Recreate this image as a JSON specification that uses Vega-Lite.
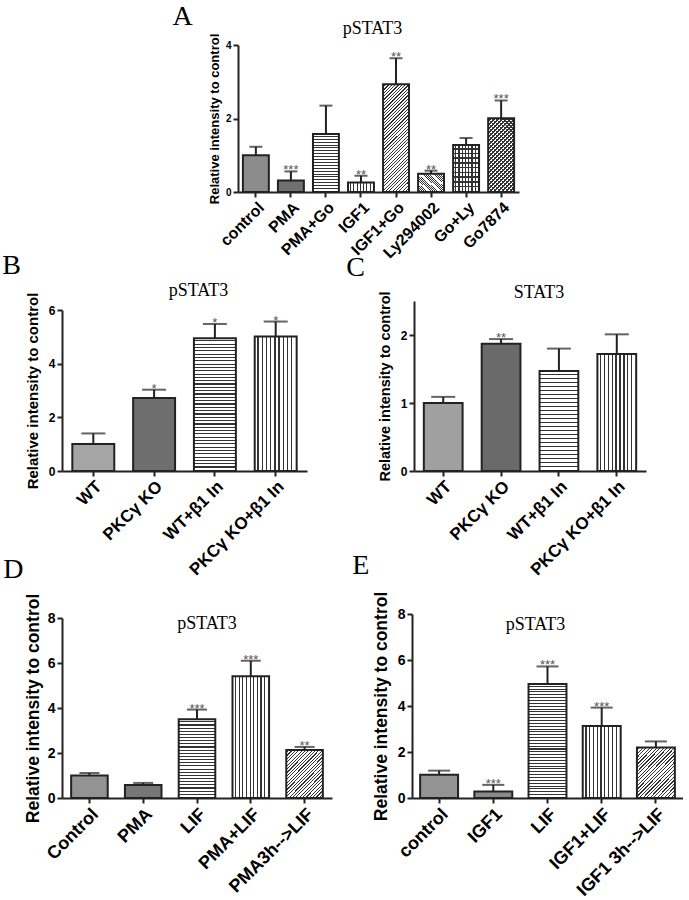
{
"$schema": "https://vega.github.io/schema/vega-lite/v6.json",
"padding": {"left": 2, "top": 3, "right": 0, "bottom": 0},
"background": "white",
"config": {
 "view": {"stroke": null},
 "font": "Liberation Sans",
 "axis": {"domainColor": "#222", "domainWidth": 2, "tickColor": "#222", "tickWidth": 2, "tickSize": 5, "labelColor": "#000", "labelFontWeight": "bold", "titleFontWeight": "bold", "titleColor": "#000", "grid": false, "labelFont": "Liberation Sans", "titleFont": "Liberation Sans"},
 "title": {"font": "Liberation Serif", "fontWeight": "normal", "color": "#000"},
 "concat": {"spacing": 0}
},
"datasets": {
 "A": [
  {"cat": "control", "val": 1.0, "upper": 1.23, "sig": ""},
  {"cat": "PMA", "val": 0.31, "upper": 0.56, "sig": "***"},
  {"cat": "PMA+Go", "val": 1.58, "upper": 2.35, "sig": ""},
  {"cat": "IGF1", "val": 0.26, "upper": 0.44, "sig": "**"},
  {"cat": "IGF1+Go", "val": 2.93, "upper": 3.64, "sig": "**"},
  {"cat": "Ly294002", "val": 0.5, "upper": 0.58, "sig": "**"},
  {"cat": "Go+Ly", "val": 1.28, "upper": 1.47, "sig": ""},
  {"cat": "Go7874", "val": 2.01, "upper": 2.49, "sig": "***"}
 ],
 "B": [
  {"cat": "WT", "val": 1.01, "upper": 1.4, "sig": ""},
  {"cat": "PKCγ KO", "val": 2.72, "upper": 3.03, "sig": "*"},
  {"cat": "WT+β1 In", "val": 4.95, "upper": 5.48, "sig": "*"},
  {"cat": "PKCγ KO+β1 In", "val": 5.01, "upper": 5.57, "sig": "*"}
 ],
 "C": [
  {"cat": "WT", "val": 1.0, "upper": 1.09, "sig": ""},
  {"cat": "PKCγ KO", "val": 1.87, "upper": 1.94, "sig": "**"},
  {"cat": "WT+β1 In", "val": 1.47, "upper": 1.8, "sig": ""},
  {"cat": "PKCγ KO+β1 In", "val": 1.72, "upper": 2.01, "sig": ""}
 ],
 "D": [
  {"cat": "Control", "val": 1.0, "upper": 1.11, "sig": ""},
  {"cat": "PMA", "val": 0.58, "upper": 0.67, "sig": ""},
  {"cat": "LIF", "val": 3.5, "upper": 3.93, "sig": "***"},
  {"cat": "PMA+LIF", "val": 5.41, "upper": 6.1, "sig": "***"},
  {"cat": "PMA3h-->LIF", "val": 2.13, "upper": 2.27, "sig": "**"}
 ],
 "E": [
  {"cat": "control", "val": 1.01, "upper": 1.19, "sig": ""},
  {"cat": "IGF1", "val": 0.28, "upper": 0.57, "sig": "***"},
  {"cat": "LIF", "val": 4.96, "upper": 5.72, "sig": "***"},
  {"cat": "IGF1+LIF", "val": 3.13, "upper": 3.93, "sig": "***"},
  {"cat": "IGF1 3h-->LIF", "val": 2.2, "upper": 2.46, "sig": ""}
 ]
},
"spacing": -9,
"vconcat": [
 {"spacing": 0, "hconcat": [
  {"width": 110, "height": 1, "data": {"values": [{}]}, "mark": {"type": "point", "opacity": 0}, "encoding": {}},
  {"title": {"text": "A", "anchor": "start", "fontSize": 28, "dx": -36, "offset": -11},
   "vconcat": [
   {"width": 281, "height": 147,
    "title": {"text": "pSTAT3", "fontSize": 18, "offset": -5, "dx": -6},
    "data": {"name": "A"},
    "encoding": {"x": {"field": "cat", "type": "nominal", "sort": null, "scale": {"paddingInner": 0.26, "paddingOuter": 0.14}, "axis": {"title": null, "labelAngle": -45, "labelFontSize": 16, "labelPadding": 2}}},
    "layer": [
     {"mark": {"type": "bar"},
      "encoding": {
       "y": {"field": "val", "type": "quantitative", "title": "Relative intensity to control", "scale": {"domain": [0, 4], "nice": false}, "axis": {"values": [0, 1, 2, 3, 4], "labelFontSize": 10, "titleFontSize": 13, "labelPadding": 2, "titlePadding": 4}},
       "fill": {"condition": [
        {"test": "datum.cat === 'control'", "value": "#8c8c8c"},
        {"test": "datum.cat === 'PMA'", "value": "#707070"},
        {"test": "datum.cat === 'PMA+Go'", "value": {"gradient": "linear", "x1": 0, "y1": 0, "x2": 0, "y2": 1, "stops": [{"offset":0,"color":"#fff"},{"offset":0.0325,"color":"#fff"},{"offset":0.0325,"color":"#333"},{"offset":0.05,"color":"#333"},{"offset":0.05,"color":"#fff"},{"offset":0.0825,"color":"#fff"},{"offset":0.0825,"color":"#333"},{"offset":0.1,"color":"#333"},{"offset":0.1,"color":"#fff"},{"offset":0.1325,"color":"#fff"},{"offset":0.1325,"color":"#333"},{"offset":0.15,"color":"#333"},{"offset":0.15,"color":"#fff"},{"offset":0.1825,"color":"#fff"},{"offset":0.1825,"color":"#333"},{"offset":0.2,"color":"#333"},{"offset":0.2,"color":"#fff"},{"offset":0.2325,"color":"#fff"},{"offset":0.2325,"color":"#333"},{"offset":0.25,"color":"#333"},{"offset":0.25,"color":"#fff"},{"offset":0.2825,"color":"#fff"},{"offset":0.2825,"color":"#333"},{"offset":0.3,"color":"#333"},{"offset":0.3,"color":"#fff"},{"offset":0.3325,"color":"#fff"},{"offset":0.3325,"color":"#333"},{"offset":0.35,"color":"#333"},{"offset":0.35,"color":"#fff"},{"offset":0.3825,"color":"#fff"},{"offset":0.3825,"color":"#333"},{"offset":0.4,"color":"#333"},{"offset":0.4,"color":"#fff"},{"offset":0.4325,"color":"#fff"},{"offset":0.4325,"color":"#333"},{"offset":0.45,"color":"#333"},{"offset":0.45,"color":"#fff"},{"offset":0.4825,"color":"#fff"},{"offset":0.4825,"color":"#333"},{"offset":0.5,"color":"#333"},{"offset":0.5,"color":"#fff"},{"offset":0.5325,"color":"#fff"},{"offset":0.5325,"color":"#333"},{"offset":0.55,"color":"#333"},{"offset":0.55,"color":"#fff"},{"offset":0.5825,"color":"#fff"},{"offset":0.5825,"color":"#333"},{"offset":0.6,"color":"#333"},{"offset":0.6,"color":"#fff"},{"offset":0.6325,"color":"#fff"},{"offset":0.6325,"color":"#333"},{"offset":0.65,"color":"#333"},{"offset":0.65,"color":"#fff"},{"offset":0.6825,"color":"#fff"},{"offset":0.6825,"color":"#333"},{"offset":0.7,"color":"#333"},{"offset":0.7,"color":"#fff"},{"offset":0.7325,"color":"#fff"},{"offset":0.7325,"color":"#333"},{"offset":0.75,"color":"#333"},{"offset":0.75,"color":"#fff"},{"offset":0.7825,"color":"#fff"},{"offset":0.7825,"color":"#333"},{"offset":0.8,"color":"#333"},{"offset":0.8,"color":"#fff"},{"offset":0.8325,"color":"#fff"},{"offset":0.8325,"color":"#333"},{"offset":0.85,"color":"#333"},{"offset":0.85,"color":"#fff"},{"offset":0.8825,"color":"#fff"},{"offset":0.8825,"color":"#333"},{"offset":0.9,"color":"#333"},{"offset":0.9,"color":"#fff"},{"offset":0.9325,"color":"#fff"},{"offset":0.9325,"color":"#333"},{"offset":0.95,"color":"#333"},{"offset":0.95,"color":"#fff"},{"offset":0.9825,"color":"#fff"},{"offset":0.9825,"color":"#333"},{"offset":1,"color":"#333"}]}},
        {"test": "datum.cat === 'IGF1' || datum.cat === 'Go+Ly'", "value": {"gradient": "linear", "x1": 0, "y1": 0, "x2": 1, "y2": 0, "stops": [{"offset":0,"color":"#fff"},{"offset":0.08,"color":"#fff"},{"offset":0.08,"color":"#333"},{"offset":0.125,"color":"#333"},{"offset":0.125,"color":"#fff"},{"offset":0.205,"color":"#fff"},{"offset":0.205,"color":"#333"},{"offset":0.25,"color":"#333"},{"offset":0.25,"color":"#fff"},{"offset":0.33,"color":"#fff"},{"offset":0.33,"color":"#333"},{"offset":0.375,"color":"#333"},{"offset":0.375,"color":"#fff"},{"offset":0.455,"color":"#fff"},{"offset":0.455,"color":"#333"},{"offset":0.5,"color":"#333"},{"offset":0.5,"color":"#fff"},{"offset":0.58,"color":"#fff"},{"offset":0.58,"color":"#333"},{"offset":0.625,"color":"#333"},{"offset":0.625,"color":"#fff"},{"offset":0.705,"color":"#fff"},{"offset":0.705,"color":"#333"},{"offset":0.75,"color":"#333"},{"offset":0.75,"color":"#fff"},{"offset":0.83,"color":"#fff"},{"offset":0.83,"color":"#333"},{"offset":0.875,"color":"#333"},{"offset":0.875,"color":"#fff"},{"offset":0.955,"color":"#fff"},{"offset":0.955,"color":"#333"},{"offset":1,"color":"#333"}]}},
        {"test": "datum.cat === 'IGF1+Go'", "value": {"gradient": "linear", "x1": 0, "y1": 0, "x2": 0.282, "y2": 1.173, "stops": [{"offset":0,"color":"#fff"},{"offset":0.016,"color":"#fff"},{"offset":0.016,"color":"#333"},{"offset":0.025,"color":"#333"},{"offset":0.025,"color":"#fff"},{"offset":0.041,"color":"#fff"},{"offset":0.041,"color":"#333"},{"offset":0.05,"color":"#333"},{"offset":0.05,"color":"#fff"},{"offset":0.066,"color":"#fff"},{"offset":0.066,"color":"#333"},{"offset":0.075,"color":"#333"},{"offset":0.075,"color":"#fff"},{"offset":0.091,"color":"#fff"},{"offset":0.091,"color":"#333"},{"offset":0.1,"color":"#333"},{"offset":0.1,"color":"#fff"},{"offset":0.116,"color":"#fff"},{"offset":0.116,"color":"#333"},{"offset":0.125,"color":"#333"},{"offset":0.125,"color":"#fff"},{"offset":0.141,"color":"#fff"},{"offset":0.141,"color":"#333"},{"offset":0.15,"color":"#333"},{"offset":0.15,"color":"#fff"},{"offset":0.166,"color":"#fff"},{"offset":0.166,"color":"#333"},{"offset":0.175,"color":"#333"},{"offset":0.175,"color":"#fff"},{"offset":0.191,"color":"#fff"},{"offset":0.191,"color":"#333"},{"offset":0.2,"color":"#333"},{"offset":0.2,"color":"#fff"},{"offset":0.216,"color":"#fff"},{"offset":0.216,"color":"#333"},{"offset":0.225,"color":"#333"},{"offset":0.225,"color":"#fff"},{"offset":0.241,"color":"#fff"},{"offset":0.241,"color":"#333"},{"offset":0.25,"color":"#333"},{"offset":0.25,"color":"#fff"},{"offset":0.266,"color":"#fff"},{"offset":0.266,"color":"#333"},{"offset":0.275,"color":"#333"},{"offset":0.275,"color":"#fff"},{"offset":0.291,"color":"#fff"},{"offset":0.291,"color":"#333"},{"offset":0.3,"color":"#333"},{"offset":0.3,"color":"#fff"},{"offset":0.316,"color":"#fff"},{"offset":0.316,"color":"#333"},{"offset":0.325,"color":"#333"},{"offset":0.325,"color":"#fff"},{"offset":0.341,"color":"#fff"},{"offset":0.341,"color":"#333"},{"offset":0.35,"color":"#333"},{"offset":0.35,"color":"#fff"},{"offset":0.366,"color":"#fff"},{"offset":0.366,"color":"#333"},{"offset":0.375,"color":"#333"},{"offset":0.375,"color":"#fff"},{"offset":0.391,"color":"#fff"},{"offset":0.391,"color":"#333"},{"offset":0.4,"color":"#333"},{"offset":0.4,"color":"#fff"},{"offset":0.416,"color":"#fff"},{"offset":0.416,"color":"#333"},{"offset":0.425,"color":"#333"},{"offset":0.425,"color":"#fff"},{"offset":0.441,"color":"#fff"},{"offset":0.441,"color":"#333"},{"offset":0.45,"color":"#333"},{"offset":0.45,"color":"#fff"},{"offset":0.466,"color":"#fff"},{"offset":0.466,"color":"#333"},{"offset":0.475,"color":"#333"},{"offset":0.475,"color":"#fff"},{"offset":0.491,"color":"#fff"},{"offset":0.491,"color":"#333"},{"offset":0.5,"color":"#333"},{"offset":0.5,"color":"#fff"},{"offset":0.516,"color":"#fff"},{"offset":0.516,"color":"#333"},{"offset":0.525,"color":"#333"},{"offset":0.525,"color":"#fff"},{"offset":0.541,"color":"#fff"},{"offset":0.541,"color":"#333"},{"offset":0.55,"color":"#333"},{"offset":0.55,"color":"#fff"},{"offset":0.566,"color":"#fff"},{"offset":0.566,"color":"#333"},{"offset":0.575,"color":"#333"},{"offset":0.575,"color":"#fff"},{"offset":0.591,"color":"#fff"},{"offset":0.591,"color":"#333"},{"offset":0.6,"color":"#333"},{"offset":0.6,"color":"#fff"},{"offset":0.616,"color":"#fff"},{"offset":0.616,"color":"#333"},{"offset":0.625,"color":"#333"},{"offset":0.625,"color":"#fff"},{"offset":0.641,"color":"#fff"},{"offset":0.641,"color":"#333"},{"offset":0.65,"color":"#333"},{"offset":0.65,"color":"#fff"},{"offset":0.666,"color":"#fff"},{"offset":0.666,"color":"#333"},{"offset":0.675,"color":"#333"},{"offset":0.675,"color":"#fff"},{"offset":0.691,"color":"#fff"},{"offset":0.691,"color":"#333"},{"offset":0.7,"color":"#333"},{"offset":0.7,"color":"#fff"},{"offset":0.716,"color":"#fff"},{"offset":0.716,"color":"#333"},{"offset":0.725,"color":"#333"},{"offset":0.725,"color":"#fff"},{"offset":0.741,"color":"#fff"},{"offset":0.741,"color":"#333"},{"offset":0.75,"color":"#333"},{"offset":0.75,"color":"#fff"},{"offset":0.766,"color":"#fff"},{"offset":0.766,"color":"#333"},{"offset":0.775,"color":"#333"},{"offset":0.775,"color":"#fff"},{"offset":0.791,"color":"#fff"},{"offset":0.791,"color":"#333"},{"offset":0.8,"color":"#333"},{"offset":0.8,"color":"#fff"},{"offset":0.816,"color":"#fff"},{"offset":0.816,"color":"#333"},{"offset":0.825,"color":"#333"},{"offset":0.825,"color":"#fff"},{"offset":0.841,"color":"#fff"},{"offset":0.841,"color":"#333"},{"offset":0.85,"color":"#333"},{"offset":0.85,"color":"#fff"},{"offset":0.866,"color":"#fff"},{"offset":0.866,"color":"#333"},{"offset":0.875,"color":"#333"},{"offset":0.875,"color":"#fff"},{"offset":0.891,"color":"#fff"},{"offset":0.891,"color":"#333"},{"offset":0.9,"color":"#333"},{"offset":0.9,"color":"#fff"},{"offset":0.916,"color":"#fff"},{"offset":0.916,"color":"#333"},{"offset":0.925,"color":"#333"},{"offset":0.925,"color":"#fff"},{"offset":0.941,"color":"#fff"},{"offset":0.941,"color":"#333"},{"offset":0.95,"color":"#333"},{"offset":0.95,"color":"#fff"},{"offset":0.966,"color":"#fff"},{"offset":0.966,"color":"#333"},{"offset":0.975,"color":"#333"},{"offset":0.975,"color":"#fff"},{"offset":0.991,"color":"#fff"},{"offset":0.991,"color":"#333"},{"offset":1,"color":"#333"},{"offset":1,"color":"#fff"}]}},
        {"test": "datum.cat === 'Ly294002'", "value": {"gradient": "linear", "x1": 1, "y1": 0, "x2": -0.144, "y2": 0.792, "stops": [{"offset":0,"color":"#fff"},{"offset":0.0325,"color":"#fff"},{"offset":0.0325,"color":"#333"},{"offset":0.05,"color":"#333"},{"offset":0.05,"color":"#fff"},{"offset":0.0825,"color":"#fff"},{"offset":0.0825,"color":"#333"},{"offset":0.1,"color":"#333"},{"offset":0.1,"color":"#fff"},{"offset":0.1325,"color":"#fff"},{"offset":0.1325,"color":"#333"},{"offset":0.15,"color":"#333"},{"offset":0.15,"color":"#fff"},{"offset":0.1825,"color":"#fff"},{"offset":0.1825,"color":"#333"},{"offset":0.2,"color":"#333"},{"offset":0.2,"color":"#fff"},{"offset":0.2325,"color":"#fff"},{"offset":0.2325,"color":"#333"},{"offset":0.25,"color":"#333"},{"offset":0.25,"color":"#fff"},{"offset":0.2825,"color":"#fff"},{"offset":0.2825,"color":"#333"},{"offset":0.3,"color":"#333"},{"offset":0.3,"color":"#fff"},{"offset":0.3325,"color":"#fff"},{"offset":0.3325,"color":"#333"},{"offset":0.35,"color":"#333"},{"offset":0.35,"color":"#fff"},{"offset":0.3825,"color":"#fff"},{"offset":0.3825,"color":"#333"},{"offset":0.4,"color":"#333"},{"offset":0.4,"color":"#fff"},{"offset":0.4325,"color":"#fff"},{"offset":0.4325,"color":"#333"},{"offset":0.45,"color":"#333"},{"offset":0.45,"color":"#fff"},{"offset":0.4825,"color":"#fff"},{"offset":0.4825,"color":"#333"},{"offset":0.5,"color":"#333"},{"offset":0.5,"color":"#fff"},{"offset":0.5325,"color":"#fff"},{"offset":0.5325,"color":"#333"},{"offset":0.55,"color":"#333"},{"offset":0.55,"color":"#fff"},{"offset":0.5825,"color":"#fff"},{"offset":0.5825,"color":"#333"},{"offset":0.6,"color":"#333"},{"offset":0.6,"color":"#fff"},{"offset":0.6325,"color":"#fff"},{"offset":0.6325,"color":"#333"},{"offset":0.65,"color":"#333"},{"offset":0.65,"color":"#fff"},{"offset":0.6825,"color":"#fff"},{"offset":0.6825,"color":"#333"},{"offset":0.7,"color":"#333"},{"offset":0.7,"color":"#fff"},{"offset":0.7325,"color":"#fff"},{"offset":0.7325,"color":"#333"},{"offset":0.75,"color":"#333"},{"offset":0.75,"color":"#fff"},{"offset":0.7825,"color":"#fff"},{"offset":0.7825,"color":"#333"},{"offset":0.8,"color":"#333"},{"offset":0.8,"color":"#fff"},{"offset":0.8325,"color":"#fff"},{"offset":0.8325,"color":"#333"},{"offset":0.85,"color":"#333"},{"offset":0.85,"color":"#fff"},{"offset":0.8825,"color":"#fff"},{"offset":0.8825,"color":"#333"},{"offset":0.9,"color":"#333"},{"offset":0.9,"color":"#fff"},{"offset":0.9325,"color":"#fff"},{"offset":0.9325,"color":"#333"},{"offset":0.95,"color":"#333"},{"offset":0.95,"color":"#fff"},{"offset":0.9825,"color":"#fff"},{"offset":0.9825,"color":"#333"},{"offset":1,"color":"#333"},{"offset":1,"color":"#fff"}]}},
        {"test": "datum.cat === 'Go7874'", "value": {"gradient": "linear", "x1": 0, "y1": 0, "x2": 0.4226, "y2": 1.2027, "stops": [{"offset":0,"color":"#fff"},{"offset":0.026,"color":"#fff"},{"offset":0.026,"color":"#333"},{"offset":0.04,"color":"#333"},{"offset":0.04,"color":"#fff"},{"offset":0.066,"color":"#fff"},{"offset":0.066,"color":"#333"},{"offset":0.08,"color":"#333"},{"offset":0.08,"color":"#fff"},{"offset":0.106,"color":"#fff"},{"offset":0.106,"color":"#333"},{"offset":0.12,"color":"#333"},{"offset":0.12,"color":"#fff"},{"offset":0.146,"color":"#fff"},{"offset":0.146,"color":"#333"},{"offset":0.16,"color":"#333"},{"offset":0.16,"color":"#fff"},{"offset":0.186,"color":"#fff"},{"offset":0.186,"color":"#333"},{"offset":0.2,"color":"#333"},{"offset":0.2,"color":"#fff"},{"offset":0.226,"color":"#fff"},{"offset":0.226,"color":"#333"},{"offset":0.24,"color":"#333"},{"offset":0.24,"color":"#fff"},{"offset":0.266,"color":"#fff"},{"offset":0.266,"color":"#333"},{"offset":0.28,"color":"#333"},{"offset":0.28,"color":"#fff"},{"offset":0.306,"color":"#fff"},{"offset":0.306,"color":"#333"},{"offset":0.32,"color":"#333"},{"offset":0.32,"color":"#fff"},{"offset":0.346,"color":"#fff"},{"offset":0.346,"color":"#333"},{"offset":0.36,"color":"#333"},{"offset":0.36,"color":"#fff"},{"offset":0.386,"color":"#fff"},{"offset":0.386,"color":"#333"},{"offset":0.4,"color":"#333"},{"offset":0.4,"color":"#fff"},{"offset":0.426,"color":"#fff"},{"offset":0.426,"color":"#333"},{"offset":0.44,"color":"#333"},{"offset":0.44,"color":"#fff"},{"offset":0.466,"color":"#fff"},{"offset":0.466,"color":"#333"},{"offset":0.48,"color":"#333"},{"offset":0.48,"color":"#fff"},{"offset":0.506,"color":"#fff"},{"offset":0.506,"color":"#333"},{"offset":0.52,"color":"#333"},{"offset":0.52,"color":"#fff"},{"offset":0.546,"color":"#fff"},{"offset":0.546,"color":"#333"},{"offset":0.56,"color":"#333"},{"offset":0.56,"color":"#fff"},{"offset":0.586,"color":"#fff"},{"offset":0.586,"color":"#333"},{"offset":0.6,"color":"#333"},{"offset":0.6,"color":"#fff"},{"offset":0.626,"color":"#fff"},{"offset":0.626,"color":"#333"},{"offset":0.64,"color":"#333"},{"offset":0.64,"color":"#fff"},{"offset":0.666,"color":"#fff"},{"offset":0.666,"color":"#333"},{"offset":0.68,"color":"#333"},{"offset":0.68,"color":"#fff"},{"offset":0.706,"color":"#fff"},{"offset":0.706,"color":"#333"},{"offset":0.72,"color":"#333"},{"offset":0.72,"color":"#fff"},{"offset":0.746,"color":"#fff"},{"offset":0.746,"color":"#333"},{"offset":0.76,"color":"#333"},{"offset":0.76,"color":"#fff"},{"offset":0.786,"color":"#fff"},{"offset":0.786,"color":"#333"},{"offset":0.8,"color":"#333"},{"offset":0.8,"color":"#fff"},{"offset":0.826,"color":"#fff"},{"offset":0.826,"color":"#333"},{"offset":0.84,"color":"#333"},{"offset":0.84,"color":"#fff"},{"offset":0.866,"color":"#fff"},{"offset":0.866,"color":"#333"},{"offset":0.88,"color":"#333"},{"offset":0.88,"color":"#fff"},{"offset":0.906,"color":"#fff"},{"offset":0.906,"color":"#333"},{"offset":0.92,"color":"#333"},{"offset":0.92,"color":"#fff"},{"offset":0.946,"color":"#fff"},{"offset":0.946,"color":"#333"},{"offset":0.96,"color":"#333"},{"offset":0.96,"color":"#fff"},{"offset":0.986,"color":"#fff"},{"offset":0.986,"color":"#333"},{"offset":1,"color":"#333"},{"offset":1,"color":"#fff"}]}}
       ], "value": "#fff"}
      }},
     {"mark": {"type": "bar", "stroke": "#222", "strokeWidth": 2},
      "encoding": {
       "y": {"field": "val", "type": "quantitative", "title": "Relative intensity to control"},
       "fill": {"condition": [
        {"test": "datum.cat === 'Go+Ly'", "value": {"gradient": "linear", "x1": 0, "y1": 0, "x2": 0, "y2": 1, "stops": [{"offset":0,"color":"rgba(0,0,0,0)"},{"offset":0.065,"color":"rgba(0,0,0,0)"},{"offset":0.065,"color":"#333"},{"offset":0.1,"color":"#333"},{"offset":0.1,"color":"rgba(0,0,0,0)"},{"offset":0.165,"color":"rgba(0,0,0,0)"},{"offset":0.165,"color":"#333"},{"offset":0.2,"color":"#333"},{"offset":0.2,"color":"rgba(0,0,0,0)"},{"offset":0.265,"color":"rgba(0,0,0,0)"},{"offset":0.265,"color":"#333"},{"offset":0.3,"color":"#333"},{"offset":0.3,"color":"rgba(0,0,0,0)"},{"offset":0.365,"color":"rgba(0,0,0,0)"},{"offset":0.365,"color":"#333"},{"offset":0.4,"color":"#333"},{"offset":0.4,"color":"rgba(0,0,0,0)"},{"offset":0.465,"color":"rgba(0,0,0,0)"},{"offset":0.465,"color":"#333"},{"offset":0.5,"color":"#333"},{"offset":0.5,"color":"rgba(0,0,0,0)"},{"offset":0.565,"color":"rgba(0,0,0,0)"},{"offset":0.565,"color":"#333"},{"offset":0.6,"color":"#333"},{"offset":0.6,"color":"rgba(0,0,0,0)"},{"offset":0.665,"color":"rgba(0,0,0,0)"},{"offset":0.665,"color":"#333"},{"offset":0.7,"color":"#333"},{"offset":0.7,"color":"rgba(0,0,0,0)"},{"offset":0.765,"color":"rgba(0,0,0,0)"},{"offset":0.765,"color":"#333"},{"offset":0.8,"color":"#333"},{"offset":0.8,"color":"rgba(0,0,0,0)"},{"offset":0.865,"color":"rgba(0,0,0,0)"},{"offset":0.865,"color":"#333"},{"offset":0.9,"color":"#333"},{"offset":0.9,"color":"rgba(0,0,0,0)"},{"offset":1,"color":"rgba(0,0,0,0)"}]}},
        {"test": "datum.cat === 'Go7874'", "value": {"gradient": "linear", "x1": 1, "y1": 0, "x2": 0.5774, "y2": 1.2027, "stops": [{"offset":0,"color":"rgba(0,0,0,0)"},{"offset":0.026,"color":"rgba(0,0,0,0)"},{"offset":0.026,"color":"#333"},{"offset":0.04,"color":"#333"},{"offset":0.04,"color":"rgba(0,0,0,0)"},{"offset":0.066,"color":"rgba(0,0,0,0)"},{"offset":0.066,"color":"#333"},{"offset":0.08,"color":"#333"},{"offset":0.08,"color":"rgba(0,0,0,0)"},{"offset":0.106,"color":"rgba(0,0,0,0)"},{"offset":0.106,"color":"#333"},{"offset":0.12,"color":"#333"},{"offset":0.12,"color":"rgba(0,0,0,0)"},{"offset":0.146,"color":"rgba(0,0,0,0)"},{"offset":0.146,"color":"#333"},{"offset":0.16,"color":"#333"},{"offset":0.16,"color":"rgba(0,0,0,0)"},{"offset":0.186,"color":"rgba(0,0,0,0)"},{"offset":0.186,"color":"#333"},{"offset":0.2,"color":"#333"},{"offset":0.2,"color":"rgba(0,0,0,0)"},{"offset":0.226,"color":"rgba(0,0,0,0)"},{"offset":0.226,"color":"#333"},{"offset":0.24,"color":"#333"},{"offset":0.24,"color":"rgba(0,0,0,0)"},{"offset":0.266,"color":"rgba(0,0,0,0)"},{"offset":0.266,"color":"#333"},{"offset":0.28,"color":"#333"},{"offset":0.28,"color":"rgba(0,0,0,0)"},{"offset":0.306,"color":"rgba(0,0,0,0)"},{"offset":0.306,"color":"#333"},{"offset":0.32,"color":"#333"},{"offset":0.32,"color":"rgba(0,0,0,0)"},{"offset":0.346,"color":"rgba(0,0,0,0)"},{"offset":0.346,"color":"#333"},{"offset":0.36,"color":"#333"},{"offset":0.36,"color":"rgba(0,0,0,0)"},{"offset":0.386,"color":"rgba(0,0,0,0)"},{"offset":0.386,"color":"#333"},{"offset":0.4,"color":"#333"},{"offset":0.4,"color":"rgba(0,0,0,0)"},{"offset":0.426,"color":"rgba(0,0,0,0)"},{"offset":0.426,"color":"#333"},{"offset":0.44,"color":"#333"},{"offset":0.44,"color":"rgba(0,0,0,0)"},{"offset":0.466,"color":"rgba(0,0,0,0)"},{"offset":0.466,"color":"#333"},{"offset":0.48,"color":"#333"},{"offset":0.48,"color":"rgba(0,0,0,0)"},{"offset":0.506,"color":"rgba(0,0,0,0)"},{"offset":0.506,"color":"#333"},{"offset":0.52,"color":"#333"},{"offset":0.52,"color":"rgba(0,0,0,0)"},{"offset":0.546,"color":"rgba(0,0,0,0)"},{"offset":0.546,"color":"#333"},{"offset":0.56,"color":"#333"},{"offset":0.56,"color":"rgba(0,0,0,0)"},{"offset":0.586,"color":"rgba(0,0,0,0)"},{"offset":0.586,"color":"#333"},{"offset":0.6,"color":"#333"},{"offset":0.6,"color":"rgba(0,0,0,0)"},{"offset":0.626,"color":"rgba(0,0,0,0)"},{"offset":0.626,"color":"#333"},{"offset":0.64,"color":"#333"},{"offset":0.64,"color":"rgba(0,0,0,0)"},{"offset":0.666,"color":"rgba(0,0,0,0)"},{"offset":0.666,"color":"#333"},{"offset":0.68,"color":"#333"},{"offset":0.68,"color":"rgba(0,0,0,0)"},{"offset":0.706,"color":"rgba(0,0,0,0)"},{"offset":0.706,"color":"#333"},{"offset":0.72,"color":"#333"},{"offset":0.72,"color":"rgba(0,0,0,0)"},{"offset":0.746,"color":"rgba(0,0,0,0)"},{"offset":0.746,"color":"#333"},{"offset":0.76,"color":"#333"},{"offset":0.76,"color":"rgba(0,0,0,0)"},{"offset":0.786,"color":"rgba(0,0,0,0)"},{"offset":0.786,"color":"#333"},{"offset":0.8,"color":"#333"},{"offset":0.8,"color":"rgba(0,0,0,0)"},{"offset":0.826,"color":"rgba(0,0,0,0)"},{"offset":0.826,"color":"#333"},{"offset":0.84,"color":"#333"},{"offset":0.84,"color":"rgba(0,0,0,0)"},{"offset":0.866,"color":"rgba(0,0,0,0)"},{"offset":0.866,"color":"#333"},{"offset":0.88,"color":"#333"},{"offset":0.88,"color":"rgba(0,0,0,0)"},{"offset":0.906,"color":"rgba(0,0,0,0)"},{"offset":0.906,"color":"#333"},{"offset":0.92,"color":"#333"},{"offset":0.92,"color":"rgba(0,0,0,0)"},{"offset":0.946,"color":"rgba(0,0,0,0)"},{"offset":0.946,"color":"#333"},{"offset":0.96,"color":"#333"},{"offset":0.96,"color":"rgba(0,0,0,0)"},{"offset":1,"color":"rgba(0,0,0,0)"}]}}
       ], "value": "transparent"}
      }},
     {"mark": {"type": "rule", "color": "#222", "strokeWidth": 2},
      "encoding": {"y": {"field": "val", "type": "quantitative", "title": "Relative intensity to control"}, "y2": {"field": "upper"}}},
     {"mark": {"type": "tick", "color": "#222", "thickness": 2, "size": 13},
      "encoding": {"y": {"field": "upper", "type": "quantitative", "title": "Relative intensity to control"}}},
     {"mark": {"type": "text", "color": "#555", "fontSize": 13, "dy": 3, "baseline": "alphabetic", "font": "Liberation Sans"},
      "encoding": {"y": {"field": "upper", "type": "quantitative", "title": "Relative intensity to control"}, "text": {"field": "sig"}}}
    ]
   }
  ]}
 ]},
 {"spacing": -26, "vconcat": [
 {"spacing": 39, "hconcat": [
  {"title": {"text": "B", "anchor": "start", "fontSize": 28, "dx": -23, "offset": 2},
   "vconcat": [
   {"width": 245, "height": 170,
    "title": {"text": "pSTAT3", "fontSize": 18, "offset": -8, "dx": 14},
    "data": {"name": "B"},
    "encoding": {"x": {"field": "cat", "type": "nominal", "sort": null, "scale": {"paddingInner": 0.31, "paddingOuter": 0.17}, "axis": {"title": null, "labelAngle": -45, "labelFontSize": 17, "labelPadding": 2}}},
    "layer": [
     {"mark": {"type": "bar", "stroke": "#222", "strokeWidth": 2},
      "encoding": {
       "y": {"field": "val", "type": "quantitative", "title": "Relative intensity to control", "scale": {"domain": [0, 6], "nice": false, "range": [170, 9]}, "axis": {"values": [0, 2, 4, 6], "labelFontSize": 12, "titleFontSize": 15, "labelPadding": 2, "titlePadding": 8}},
       "fill": {"condition": [
        {"test": "datum.cat === 'WT'", "value": "#a5a5a5"},
        {"test": "datum.cat === 'PKCγ KO'", "value": "#6e6e6e"},
        {"test": "datum.cat === 'WT+β1 In'", "value": {"gradient": "linear", "x1": 0, "y1": 0, "x2": 0, "y2": 1, "stops": [{"offset":0,"color":"#fff"},{"offset":0.016,"color":"#fff"},{"offset":0.016,"color":"#333"},{"offset":0.025,"color":"#333"},{"offset":0.025,"color":"#fff"},{"offset":0.041,"color":"#fff"},{"offset":0.041,"color":"#333"},{"offset":0.05,"color":"#333"},{"offset":0.05,"color":"#fff"},{"offset":0.066,"color":"#fff"},{"offset":0.066,"color":"#333"},{"offset":0.075,"color":"#333"},{"offset":0.075,"color":"#fff"},{"offset":0.091,"color":"#fff"},{"offset":0.091,"color":"#333"},{"offset":0.1,"color":"#333"},{"offset":0.1,"color":"#fff"},{"offset":0.116,"color":"#fff"},{"offset":0.116,"color":"#333"},{"offset":0.125,"color":"#333"},{"offset":0.125,"color":"#fff"},{"offset":0.141,"color":"#fff"},{"offset":0.141,"color":"#333"},{"offset":0.15,"color":"#333"},{"offset":0.15,"color":"#fff"},{"offset":0.166,"color":"#fff"},{"offset":0.166,"color":"#333"},{"offset":0.175,"color":"#333"},{"offset":0.175,"color":"#fff"},{"offset":0.191,"color":"#fff"},{"offset":0.191,"color":"#333"},{"offset":0.2,"color":"#333"},{"offset":0.2,"color":"#fff"},{"offset":0.216,"color":"#fff"},{"offset":0.216,"color":"#333"},{"offset":0.225,"color":"#333"},{"offset":0.225,"color":"#fff"},{"offset":0.241,"color":"#fff"},{"offset":0.241,"color":"#333"},{"offset":0.25,"color":"#333"},{"offset":0.25,"color":"#fff"},{"offset":0.266,"color":"#fff"},{"offset":0.266,"color":"#333"},{"offset":0.275,"color":"#333"},{"offset":0.275,"color":"#fff"},{"offset":0.291,"color":"#fff"},{"offset":0.291,"color":"#333"},{"offset":0.3,"color":"#333"},{"offset":0.3,"color":"#fff"},{"offset":0.316,"color":"#fff"},{"offset":0.316,"color":"#333"},{"offset":0.325,"color":"#333"},{"offset":0.325,"color":"#fff"},{"offset":0.341,"color":"#fff"},{"offset":0.341,"color":"#333"},{"offset":0.35,"color":"#333"},{"offset":0.35,"color":"#fff"},{"offset":0.366,"color":"#fff"},{"offset":0.366,"color":"#333"},{"offset":0.375,"color":"#333"},{"offset":0.375,"color":"#fff"},{"offset":0.391,"color":"#fff"},{"offset":0.391,"color":"#333"},{"offset":0.4,"color":"#333"},{"offset":0.4,"color":"#fff"},{"offset":0.416,"color":"#fff"},{"offset":0.416,"color":"#333"},{"offset":0.425,"color":"#333"},{"offset":0.425,"color":"#fff"},{"offset":0.441,"color":"#fff"},{"offset":0.441,"color":"#333"},{"offset":0.45,"color":"#333"},{"offset":0.45,"color":"#fff"},{"offset":0.466,"color":"#fff"},{"offset":0.466,"color":"#333"},{"offset":0.475,"color":"#333"},{"offset":0.475,"color":"#fff"},{"offset":0.491,"color":"#fff"},{"offset":0.491,"color":"#333"},{"offset":0.5,"color":"#333"},{"offset":0.5,"color":"#fff"},{"offset":0.516,"color":"#fff"},{"offset":0.516,"color":"#333"},{"offset":0.525,"color":"#333"},{"offset":0.525,"color":"#fff"},{"offset":0.541,"color":"#fff"},{"offset":0.541,"color":"#333"},{"offset":0.55,"color":"#333"},{"offset":0.55,"color":"#fff"},{"offset":0.566,"color":"#fff"},{"offset":0.566,"color":"#333"},{"offset":0.575,"color":"#333"},{"offset":0.575,"color":"#fff"},{"offset":0.591,"color":"#fff"},{"offset":0.591,"color":"#333"},{"offset":0.6,"color":"#333"},{"offset":0.6,"color":"#fff"},{"offset":0.616,"color":"#fff"},{"offset":0.616,"color":"#333"},{"offset":0.625,"color":"#333"},{"offset":0.625,"color":"#fff"},{"offset":0.641,"color":"#fff"},{"offset":0.641,"color":"#333"},{"offset":0.65,"color":"#333"},{"offset":0.65,"color":"#fff"},{"offset":0.666,"color":"#fff"},{"offset":0.666,"color":"#333"},{"offset":0.675,"color":"#333"},{"offset":0.675,"color":"#fff"},{"offset":0.691,"color":"#fff"},{"offset":0.691,"color":"#333"},{"offset":0.7,"color":"#333"},{"offset":0.7,"color":"#fff"},{"offset":0.716,"color":"#fff"},{"offset":0.716,"color":"#333"},{"offset":0.725,"color":"#333"},{"offset":0.725,"color":"#fff"},{"offset":0.741,"color":"#fff"},{"offset":0.741,"color":"#333"},{"offset":0.75,"color":"#333"},{"offset":0.75,"color":"#fff"},{"offset":0.766,"color":"#fff"},{"offset":0.766,"color":"#333"},{"offset":0.775,"color":"#333"},{"offset":0.775,"color":"#fff"},{"offset":0.791,"color":"#fff"},{"offset":0.791,"color":"#333"},{"offset":0.8,"color":"#333"},{"offset":0.8,"color":"#fff"},{"offset":0.816,"color":"#fff"},{"offset":0.816,"color":"#333"},{"offset":0.825,"color":"#333"},{"offset":0.825,"color":"#fff"},{"offset":0.841,"color":"#fff"},{"offset":0.841,"color":"#333"},{"offset":0.85,"color":"#333"},{"offset":0.85,"color":"#fff"},{"offset":0.866,"color":"#fff"},{"offset":0.866,"color":"#333"},{"offset":0.875,"color":"#333"},{"offset":0.875,"color":"#fff"},{"offset":0.891,"color":"#fff"},{"offset":0.891,"color":"#333"},{"offset":0.9,"color":"#333"},{"offset":0.9,"color":"#fff"},{"offset":0.916,"color":"#fff"},{"offset":0.916,"color":"#333"},{"offset":0.925,"color":"#333"},{"offset":0.925,"color":"#fff"},{"offset":0.941,"color":"#fff"},{"offset":0.941,"color":"#333"},{"offset":0.95,"color":"#333"},{"offset":0.95,"color":"#fff"},{"offset":0.966,"color":"#fff"},{"offset":0.966,"color":"#333"},{"offset":0.975,"color":"#333"},{"offset":0.975,"color":"#fff"},{"offset":1,"color":"#fff"}]}},
        {"test": "datum.cat === 'PKCγ KO+β1 In'", "value": {"gradient": "linear", "x1": 0, "y1": 0, "x2": 1, "y2": 0, "stops": [{"offset":0,"color":"#fff"},{"offset":0.065,"color":"#fff"},{"offset":0.065,"color":"#333"},{"offset":0.1,"color":"#333"},{"offset":0.1,"color":"#fff"},{"offset":0.165,"color":"#fff"},{"offset":0.165,"color":"#333"},{"offset":0.2,"color":"#333"},{"offset":0.2,"color":"#fff"},{"offset":0.265,"color":"#fff"},{"offset":0.265,"color":"#333"},{"offset":0.3,"color":"#333"},{"offset":0.3,"color":"#fff"},{"offset":0.365,"color":"#fff"},{"offset":0.365,"color":"#333"},{"offset":0.4,"color":"#333"},{"offset":0.4,"color":"#fff"},{"offset":0.465,"color":"#fff"},{"offset":0.465,"color":"#333"},{"offset":0.5,"color":"#333"},{"offset":0.5,"color":"#fff"},{"offset":0.565,"color":"#fff"},{"offset":0.565,"color":"#333"},{"offset":0.6,"color":"#333"},{"offset":0.6,"color":"#fff"},{"offset":0.665,"color":"#fff"},{"offset":0.665,"color":"#333"},{"offset":0.7,"color":"#333"},{"offset":0.7,"color":"#fff"},{"offset":0.765,"color":"#fff"},{"offset":0.765,"color":"#333"},{"offset":0.8,"color":"#333"},{"offset":0.8,"color":"#fff"},{"offset":0.865,"color":"#fff"},{"offset":0.865,"color":"#333"},{"offset":0.9,"color":"#333"},{"offset":0.9,"color":"#fff"},{"offset":1,"color":"#fff"}]}}
       ], "value": "#fff"}
      }},
     {"mark": {"type": "rule", "color": "#222", "strokeWidth": 2},
      "encoding": {"y": {"field": "val", "type": "quantitative", "title": "Relative intensity to control"}, "y2": {"field": "upper"}}},
     {"mark": {"type": "tick", "color": "#222", "thickness": 2, "size": 24},
      "encoding": {"y": {"field": "upper", "type": "quantitative", "title": "Relative intensity to control"}}},
     {"mark": {"type": "text", "color": "#555", "fontSize": 13, "dy": 3, "baseline": "alphabetic", "font": "Liberation Sans"},
      "encoding": {"y": {"field": "upper", "type": "quantitative", "title": "Relative intensity to control"}, "text": {"field": "sig"}}}
    ]
   }
  ]},
  {"title": {"text": "C", "anchor": "start", "fontSize": 28, "dx": -31, "offset": 2},
   "vconcat": [
   {"width": 232, "height": 170,
    "title": {"text": "STAT3", "fontSize": 18, "offset": -11, "dx": 9},
    "data": {"name": "C"},
    "encoding": {"x": {"field": "cat", "type": "nominal", "sort": null, "scale": {"paddingInner": 0.33, "paddingOuter": 0.17}, "axis": {"title": null, "labelAngle": -45, "labelFontSize": 17, "labelPadding": 2}}},
    "layer": [
     {"mark": {"type": "bar", "stroke": "#222", "strokeWidth": 2},
      "encoding": {
       "y": {"field": "val", "type": "quantitative", "title": "Relative intensity to control", "scale": {"domain": [0, 2.5], "nice": false}, "axis": {"values": [0, 1, 2], "format": "d", "labelFontSize": 12, "titleFontSize": 14.5, "labelPadding": 2, "titlePadding": 8}},
       "fill": {"condition": [
        {"test": "datum.cat === 'WT'", "value": "#a0a0a0"},
        {"test": "datum.cat === 'PKCγ KO'", "value": "#6a6a6a"},
        {"test": "datum.cat === 'WT+β1 In'", "value": {"gradient": "linear", "x1": 0, "y1": 0, "x2": 0, "y2": 1, "stops": [{"offset":0,"color":"#fff"},{"offset":0.026,"color":"#fff"},{"offset":0.026,"color":"#333"},{"offset":0.04,"color":"#333"},{"offset":0.04,"color":"#fff"},{"offset":0.066,"color":"#fff"},{"offset":0.066,"color":"#333"},{"offset":0.08,"color":"#333"},{"offset":0.08,"color":"#fff"},{"offset":0.106,"color":"#fff"},{"offset":0.106,"color":"#333"},{"offset":0.12,"color":"#333"},{"offset":0.12,"color":"#fff"},{"offset":0.146,"color":"#fff"},{"offset":0.146,"color":"#333"},{"offset":0.16,"color":"#333"},{"offset":0.16,"color":"#fff"},{"offset":0.186,"color":"#fff"},{"offset":0.186,"color":"#333"},{"offset":0.2,"color":"#333"},{"offset":0.2,"color":"#fff"},{"offset":0.226,"color":"#fff"},{"offset":0.226,"color":"#333"},{"offset":0.24,"color":"#333"},{"offset":0.24,"color":"#fff"},{"offset":0.266,"color":"#fff"},{"offset":0.266,"color":"#333"},{"offset":0.28,"color":"#333"},{"offset":0.28,"color":"#fff"},{"offset":0.306,"color":"#fff"},{"offset":0.306,"color":"#333"},{"offset":0.32,"color":"#333"},{"offset":0.32,"color":"#fff"},{"offset":0.346,"color":"#fff"},{"offset":0.346,"color":"#333"},{"offset":0.36,"color":"#333"},{"offset":0.36,"color":"#fff"},{"offset":0.386,"color":"#fff"},{"offset":0.386,"color":"#333"},{"offset":0.4,"color":"#333"},{"offset":0.4,"color":"#fff"},{"offset":0.426,"color":"#fff"},{"offset":0.426,"color":"#333"},{"offset":0.44,"color":"#333"},{"offset":0.44,"color":"#fff"},{"offset":0.466,"color":"#fff"},{"offset":0.466,"color":"#333"},{"offset":0.48,"color":"#333"},{"offset":0.48,"color":"#fff"},{"offset":0.506,"color":"#fff"},{"offset":0.506,"color":"#333"},{"offset":0.52,"color":"#333"},{"offset":0.52,"color":"#fff"},{"offset":0.546,"color":"#fff"},{"offset":0.546,"color":"#333"},{"offset":0.56,"color":"#333"},{"offset":0.56,"color":"#fff"},{"offset":0.586,"color":"#fff"},{"offset":0.586,"color":"#333"},{"offset":0.6,"color":"#333"},{"offset":0.6,"color":"#fff"},{"offset":0.626,"color":"#fff"},{"offset":0.626,"color":"#333"},{"offset":0.64,"color":"#333"},{"offset":0.64,"color":"#fff"},{"offset":0.666,"color":"#fff"},{"offset":0.666,"color":"#333"},{"offset":0.68,"color":"#333"},{"offset":0.68,"color":"#fff"},{"offset":0.706,"color":"#fff"},{"offset":0.706,"color":"#333"},{"offset":0.72,"color":"#333"},{"offset":0.72,"color":"#fff"},{"offset":0.746,"color":"#fff"},{"offset":0.746,"color":"#333"},{"offset":0.76,"color":"#333"},{"offset":0.76,"color":"#fff"},{"offset":0.786,"color":"#fff"},{"offset":0.786,"color":"#333"},{"offset":0.8,"color":"#333"},{"offset":0.8,"color":"#fff"},{"offset":0.826,"color":"#fff"},{"offset":0.826,"color":"#333"},{"offset":0.84,"color":"#333"},{"offset":0.84,"color":"#fff"},{"offset":0.866,"color":"#fff"},{"offset":0.866,"color":"#333"},{"offset":0.88,"color":"#333"},{"offset":0.88,"color":"#fff"},{"offset":0.906,"color":"#fff"},{"offset":0.906,"color":"#333"},{"offset":0.92,"color":"#333"},{"offset":0.92,"color":"#fff"},{"offset":0.946,"color":"#fff"},{"offset":0.946,"color":"#333"},{"offset":0.96,"color":"#333"},{"offset":0.96,"color":"#fff"},{"offset":1,"color":"#fff"}]}},
        {"test": "datum.cat === 'PKCγ KO+β1 In'", "value": {"gradient": "linear", "x1": 0, "y1": 0, "x2": 1, "y2": 0, "stops": [{"offset":0,"color":"#fff"},{"offset":0.065,"color":"#fff"},{"offset":0.065,"color":"#333"},{"offset":0.1,"color":"#333"},{"offset":0.1,"color":"#fff"},{"offset":0.165,"color":"#fff"},{"offset":0.165,"color":"#333"},{"offset":0.2,"color":"#333"},{"offset":0.2,"color":"#fff"},{"offset":0.265,"color":"#fff"},{"offset":0.265,"color":"#333"},{"offset":0.3,"color":"#333"},{"offset":0.3,"color":"#fff"},{"offset":0.365,"color":"#fff"},{"offset":0.365,"color":"#333"},{"offset":0.4,"color":"#333"},{"offset":0.4,"color":"#fff"},{"offset":0.465,"color":"#fff"},{"offset":0.465,"color":"#333"},{"offset":0.5,"color":"#333"},{"offset":0.5,"color":"#fff"},{"offset":0.565,"color":"#fff"},{"offset":0.565,"color":"#333"},{"offset":0.6,"color":"#333"},{"offset":0.6,"color":"#fff"},{"offset":0.665,"color":"#fff"},{"offset":0.665,"color":"#333"},{"offset":0.7,"color":"#333"},{"offset":0.7,"color":"#fff"},{"offset":0.765,"color":"#fff"},{"offset":0.765,"color":"#333"},{"offset":0.8,"color":"#333"},{"offset":0.8,"color":"#fff"},{"offset":0.865,"color":"#fff"},{"offset":0.865,"color":"#333"},{"offset":0.9,"color":"#333"},{"offset":0.9,"color":"#fff"},{"offset":1,"color":"#fff"}]}}
       ], "value": "#fff"}
      }},
     {"mark": {"type": "rule", "color": "#222", "strokeWidth": 2},
      "encoding": {"y": {"field": "val", "type": "quantitative", "title": "Relative intensity to control"}, "y2": {"field": "upper"}}},
     {"mark": {"type": "tick", "color": "#222", "thickness": 2, "size": 24},
      "encoding": {"y": {"field": "upper", "type": "quantitative", "title": "Relative intensity to control"}}},
     {"mark": {"type": "text", "color": "#555", "fontSize": 13, "dy": 3, "baseline": "alphabetic", "font": "Liberation Sans"},
      "encoding": {"y": {"field": "upper", "type": "quantitative", "title": "Relative intensity to control"}, "text": {"field": "sig"}}}
    ]
   }
  ]}
 ]},
 {"spacing": 20, "hconcat": [
  {"title": {"text": "D", "anchor": "start", "fontSize": 28, "dx": -21, "offset": 9},
   "vconcat": [
   {"width": 270, "height": 184,
    "title": {"text": "pSTAT3", "fontSize": 18, "offset": -40, "dx": 10},
    "data": {"name": "D"},
    "encoding": {"x": {"field": "cat", "type": "nominal", "sort": null, "scale": {"paddingInner": 0.32, "paddingOuter": 0.17}, "axis": {"title": null, "labelAngle": -45, "labelFontSize": 18, "labelPadding": 2}}},
    "layer": [
     {"mark": {"type": "bar", "stroke": "#222", "strokeWidth": 2},
      "encoding": {
       "y": {"field": "val", "type": "quantitative", "title": "Relative intensity to control", "scale": {"domain": [0, 8], "nice": false, "range": [184, 4]}, "axis": {"values": [0, 2, 4, 6, 8], "labelFontSize": 14, "titleFontSize": 17.5, "labelPadding": 2, "titlePadding": 5}},
       "fill": {"condition": [
        {"test": "datum.cat === 'Control'", "value": "#939393"},
        {"test": "datum.cat === 'PMA'", "value": "#777777"},
        {"test": "datum.cat === 'LIF'", "value": {"gradient": "linear", "x1": 0, "y1": 0, "x2": 0, "y2": 1, "stops": [{"offset":0,"color":"#fff"},{"offset":0.026,"color":"#fff"},{"offset":0.026,"color":"#333"},{"offset":0.04,"color":"#333"},{"offset":0.04,"color":"#fff"},{"offset":0.066,"color":"#fff"},{"offset":0.066,"color":"#333"},{"offset":0.08,"color":"#333"},{"offset":0.08,"color":"#fff"},{"offset":0.106,"color":"#fff"},{"offset":0.106,"color":"#333"},{"offset":0.12,"color":"#333"},{"offset":0.12,"color":"#fff"},{"offset":0.146,"color":"#fff"},{"offset":0.146,"color":"#333"},{"offset":0.16,"color":"#333"},{"offset":0.16,"color":"#fff"},{"offset":0.186,"color":"#fff"},{"offset":0.186,"color":"#333"},{"offset":0.2,"color":"#333"},{"offset":0.2,"color":"#fff"},{"offset":0.226,"color":"#fff"},{"offset":0.226,"color":"#333"},{"offset":0.24,"color":"#333"},{"offset":0.24,"color":"#fff"},{"offset":0.266,"color":"#fff"},{"offset":0.266,"color":"#333"},{"offset":0.28,"color":"#333"},{"offset":0.28,"color":"#fff"},{"offset":0.306,"color":"#fff"},{"offset":0.306,"color":"#333"},{"offset":0.32,"color":"#333"},{"offset":0.32,"color":"#fff"},{"offset":0.346,"color":"#fff"},{"offset":0.346,"color":"#333"},{"offset":0.36,"color":"#333"},{"offset":0.36,"color":"#fff"},{"offset":0.386,"color":"#fff"},{"offset":0.386,"color":"#333"},{"offset":0.4,"color":"#333"},{"offset":0.4,"color":"#fff"},{"offset":0.426,"color":"#fff"},{"offset":0.426,"color":"#333"},{"offset":0.44,"color":"#333"},{"offset":0.44,"color":"#fff"},{"offset":0.466,"color":"#fff"},{"offset":0.466,"color":"#333"},{"offset":0.48,"color":"#333"},{"offset":0.48,"color":"#fff"},{"offset":0.506,"color":"#fff"},{"offset":0.506,"color":"#333"},{"offset":0.52,"color":"#333"},{"offset":0.52,"color":"#fff"},{"offset":0.546,"color":"#fff"},{"offset":0.546,"color":"#333"},{"offset":0.56,"color":"#333"},{"offset":0.56,"color":"#fff"},{"offset":0.586,"color":"#fff"},{"offset":0.586,"color":"#333"},{"offset":0.6,"color":"#333"},{"offset":0.6,"color":"#fff"},{"offset":0.626,"color":"#fff"},{"offset":0.626,"color":"#333"},{"offset":0.64,"color":"#333"},{"offset":0.64,"color":"#fff"},{"offset":0.666,"color":"#fff"},{"offset":0.666,"color":"#333"},{"offset":0.68,"color":"#333"},{"offset":0.68,"color":"#fff"},{"offset":0.706,"color":"#fff"},{"offset":0.706,"color":"#333"},{"offset":0.72,"color":"#333"},{"offset":0.72,"color":"#fff"},{"offset":0.746,"color":"#fff"},{"offset":0.746,"color":"#333"},{"offset":0.76,"color":"#333"},{"offset":0.76,"color":"#fff"},{"offset":0.786,"color":"#fff"},{"offset":0.786,"color":"#333"},{"offset":0.8,"color":"#333"},{"offset":0.8,"color":"#fff"},{"offset":0.826,"color":"#fff"},{"offset":0.826,"color":"#333"},{"offset":0.84,"color":"#333"},{"offset":0.84,"color":"#fff"},{"offset":0.866,"color":"#fff"},{"offset":0.866,"color":"#333"},{"offset":0.88,"color":"#333"},{"offset":0.88,"color":"#fff"},{"offset":0.906,"color":"#fff"},{"offset":0.906,"color":"#333"},{"offset":0.92,"color":"#333"},{"offset":0.92,"color":"#fff"},{"offset":0.946,"color":"#fff"},{"offset":0.946,"color":"#333"},{"offset":0.96,"color":"#333"},{"offset":0.96,"color":"#fff"},{"offset":1,"color":"#fff"}]}},
        {"test": "datum.cat === 'PMA+LIF'", "value": {"gradient": "linear", "x1": 0, "y1": 0, "x2": 1, "y2": 0, "stops": [{"offset":0,"color":"#fff"},{"offset":0.065,"color":"#fff"},{"offset":0.065,"color":"#333"},{"offset":0.1,"color":"#333"},{"offset":0.1,"color":"#fff"},{"offset":0.165,"color":"#fff"},{"offset":0.165,"color":"#333"},{"offset":0.2,"color":"#333"},{"offset":0.2,"color":"#fff"},{"offset":0.265,"color":"#fff"},{"offset":0.265,"color":"#333"},{"offset":0.3,"color":"#333"},{"offset":0.3,"color":"#fff"},{"offset":0.365,"color":"#fff"},{"offset":0.365,"color":"#333"},{"offset":0.4,"color":"#333"},{"offset":0.4,"color":"#fff"},{"offset":0.465,"color":"#fff"},{"offset":0.465,"color":"#333"},{"offset":0.5,"color":"#333"},{"offset":0.5,"color":"#fff"},{"offset":0.565,"color":"#fff"},{"offset":0.565,"color":"#333"},{"offset":0.6,"color":"#333"},{"offset":0.6,"color":"#fff"},{"offset":0.665,"color":"#fff"},{"offset":0.665,"color":"#333"},{"offset":0.7,"color":"#333"},{"offset":0.7,"color":"#fff"},{"offset":0.765,"color":"#fff"},{"offset":0.765,"color":"#333"},{"offset":0.8,"color":"#333"},{"offset":0.8,"color":"#fff"},{"offset":0.865,"color":"#fff"},{"offset":0.865,"color":"#333"},{"offset":0.9,"color":"#333"},{"offset":0.9,"color":"#fff"},{"offset":1,"color":"#fff"}]}},
        {"test": "datum.cat === 'PMA3h-->LIF'", "value": {"gradient": "linear", "x1": 0, "y1": 0, "x2": 0.856, "y2": 1.111, "stops": [{"offset":0,"color":"#fff"},{"offset":0.026,"color":"#fff"},{"offset":0.026,"color":"#333"},{"offset":0.04,"color":"#333"},{"offset":0.04,"color":"#fff"},{"offset":0.066,"color":"#fff"},{"offset":0.066,"color":"#333"},{"offset":0.08,"color":"#333"},{"offset":0.08,"color":"#fff"},{"offset":0.106,"color":"#fff"},{"offset":0.106,"color":"#333"},{"offset":0.12,"color":"#333"},{"offset":0.12,"color":"#fff"},{"offset":0.146,"color":"#fff"},{"offset":0.146,"color":"#333"},{"offset":0.16,"color":"#333"},{"offset":0.16,"color":"#fff"},{"offset":0.186,"color":"#fff"},{"offset":0.186,"color":"#333"},{"offset":0.2,"color":"#333"},{"offset":0.2,"color":"#fff"},{"offset":0.226,"color":"#fff"},{"offset":0.226,"color":"#333"},{"offset":0.24,"color":"#333"},{"offset":0.24,"color":"#fff"},{"offset":0.266,"color":"#fff"},{"offset":0.266,"color":"#333"},{"offset":0.28,"color":"#333"},{"offset":0.28,"color":"#fff"},{"offset":0.306,"color":"#fff"},{"offset":0.306,"color":"#333"},{"offset":0.32,"color":"#333"},{"offset":0.32,"color":"#fff"},{"offset":0.346,"color":"#fff"},{"offset":0.346,"color":"#333"},{"offset":0.36,"color":"#333"},{"offset":0.36,"color":"#fff"},{"offset":0.386,"color":"#fff"},{"offset":0.386,"color":"#333"},{"offset":0.4,"color":"#333"},{"offset":0.4,"color":"#fff"},{"offset":0.426,"color":"#fff"},{"offset":0.426,"color":"#333"},{"offset":0.44,"color":"#333"},{"offset":0.44,"color":"#fff"},{"offset":0.466,"color":"#fff"},{"offset":0.466,"color":"#333"},{"offset":0.48,"color":"#333"},{"offset":0.48,"color":"#fff"},{"offset":0.506,"color":"#fff"},{"offset":0.506,"color":"#333"},{"offset":0.52,"color":"#333"},{"offset":0.52,"color":"#fff"},{"offset":0.546,"color":"#fff"},{"offset":0.546,"color":"#333"},{"offset":0.56,"color":"#333"},{"offset":0.56,"color":"#fff"},{"offset":0.586,"color":"#fff"},{"offset":0.586,"color":"#333"},{"offset":0.6,"color":"#333"},{"offset":0.6,"color":"#fff"},{"offset":0.626,"color":"#fff"},{"offset":0.626,"color":"#333"},{"offset":0.64,"color":"#333"},{"offset":0.64,"color":"#fff"},{"offset":0.666,"color":"#fff"},{"offset":0.666,"color":"#333"},{"offset":0.68,"color":"#333"},{"offset":0.68,"color":"#fff"},{"offset":0.706,"color":"#fff"},{"offset":0.706,"color":"#333"},{"offset":0.72,"color":"#333"},{"offset":0.72,"color":"#fff"},{"offset":0.746,"color":"#fff"},{"offset":0.746,"color":"#333"},{"offset":0.76,"color":"#333"},{"offset":0.76,"color":"#fff"},{"offset":0.786,"color":"#fff"},{"offset":0.786,"color":"#333"},{"offset":0.8,"color":"#333"},{"offset":0.8,"color":"#fff"},{"offset":0.826,"color":"#fff"},{"offset":0.826,"color":"#333"},{"offset":0.84,"color":"#333"},{"offset":0.84,"color":"#fff"},{"offset":0.866,"color":"#fff"},{"offset":0.866,"color":"#333"},{"offset":0.88,"color":"#333"},{"offset":0.88,"color":"#fff"},{"offset":0.906,"color":"#fff"},{"offset":0.906,"color":"#333"},{"offset":0.92,"color":"#333"},{"offset":0.92,"color":"#fff"},{"offset":0.946,"color":"#fff"},{"offset":0.946,"color":"#333"},{"offset":0.96,"color":"#333"},{"offset":0.96,"color":"#fff"},{"offset":1,"color":"#fff"}]}}
       ], "value": "#fff"}
      }},
     {"mark": {"type": "rule", "color": "#222", "strokeWidth": 2},
      "encoding": {"y": {"field": "val", "type": "quantitative", "title": "Relative intensity to control"}, "y2": {"field": "upper"}}},
     {"mark": {"type": "tick", "color": "#222", "thickness": 2, "size": 20},
      "encoding": {"y": {"field": "upper", "type": "quantitative", "title": "Relative intensity to control"}}},
     {"mark": {"type": "text", "color": "#555", "fontSize": 13, "dy": 3, "baseline": "alphabetic", "font": "Liberation Sans"},
      "encoding": {"y": {"field": "upper", "type": "quantitative", "title": "Relative intensity to control"}, "text": {"field": "sig"}}}
    ]
   }
  ]},
  {"title": {"text": "E", "anchor": "start", "fontSize": 28, "dx": -20, "offset": 11},
   "vconcat": [
   {"width": 271, "height": 184,
    "title": {"text": "pSTAT3", "fontSize": 18, "offset": -43, "dx": -12},
    "data": {"name": "E"},
    "encoding": {"x": {"field": "cat", "type": "nominal", "sort": null, "scale": {"paddingInner": 0.3, "paddingOuter": 0.15}, "axis": {"title": null, "labelAngle": -45, "labelFontSize": 18, "labelPadding": 2}}},
    "layer": [
     {"mark": {"type": "bar", "stroke": "#222", "strokeWidth": 2},
      "encoding": {
       "y": {"field": "val", "type": "quantitative", "title": "Relative intensity to control", "scale": {"domain": [0, 8], "nice": false}, "axis": {"values": [0, 2, 4, 6, 8], "labelFontSize": 14, "titleFontSize": 17.5, "labelPadding": 2, "titlePadding": 7}},
       "fill": {"condition": [
        {"test": "datum.cat === 'control'", "value": "#939393"},
        {"test": "datum.cat === 'IGF1'", "value": "#8a8a8a"},
        {"test": "datum.cat === 'LIF'", "value": {"gradient": "linear", "x1": 0, "y1": 0, "x2": 0, "y2": 1, "stops": [{"offset":0,"color":"#fff"},{"offset":0.016,"color":"#fff"},{"offset":0.016,"color":"#333"},{"offset":0.025,"color":"#333"},{"offset":0.025,"color":"#fff"},{"offset":0.041,"color":"#fff"},{"offset":0.041,"color":"#333"},{"offset":0.05,"color":"#333"},{"offset":0.05,"color":"#fff"},{"offset":0.066,"color":"#fff"},{"offset":0.066,"color":"#333"},{"offset":0.075,"color":"#333"},{"offset":0.075,"color":"#fff"},{"offset":0.091,"color":"#fff"},{"offset":0.091,"color":"#333"},{"offset":0.1,"color":"#333"},{"offset":0.1,"color":"#fff"},{"offset":0.116,"color":"#fff"},{"offset":0.116,"color":"#333"},{"offset":0.125,"color":"#333"},{"offset":0.125,"color":"#fff"},{"offset":0.141,"color":"#fff"},{"offset":0.141,"color":"#333"},{"offset":0.15,"color":"#333"},{"offset":0.15,"color":"#fff"},{"offset":0.166,"color":"#fff"},{"offset":0.166,"color":"#333"},{"offset":0.175,"color":"#333"},{"offset":0.175,"color":"#fff"},{"offset":0.191,"color":"#fff"},{"offset":0.191,"color":"#333"},{"offset":0.2,"color":"#333"},{"offset":0.2,"color":"#fff"},{"offset":0.216,"color":"#fff"},{"offset":0.216,"color":"#333"},{"offset":0.225,"color":"#333"},{"offset":0.225,"color":"#fff"},{"offset":0.241,"color":"#fff"},{"offset":0.241,"color":"#333"},{"offset":0.25,"color":"#333"},{"offset":0.25,"color":"#fff"},{"offset":0.266,"color":"#fff"},{"offset":0.266,"color":"#333"},{"offset":0.275,"color":"#333"},{"offset":0.275,"color":"#fff"},{"offset":0.291,"color":"#fff"},{"offset":0.291,"color":"#333"},{"offset":0.3,"color":"#333"},{"offset":0.3,"color":"#fff"},{"offset":0.316,"color":"#fff"},{"offset":0.316,"color":"#333"},{"offset":0.325,"color":"#333"},{"offset":0.325,"color":"#fff"},{"offset":0.341,"color":"#fff"},{"offset":0.341,"color":"#333"},{"offset":0.35,"color":"#333"},{"offset":0.35,"color":"#fff"},{"offset":0.366,"color":"#fff"},{"offset":0.366,"color":"#333"},{"offset":0.375,"color":"#333"},{"offset":0.375,"color":"#fff"},{"offset":0.391,"color":"#fff"},{"offset":0.391,"color":"#333"},{"offset":0.4,"color":"#333"},{"offset":0.4,"color":"#fff"},{"offset":0.416,"color":"#fff"},{"offset":0.416,"color":"#333"},{"offset":0.425,"color":"#333"},{"offset":0.425,"color":"#fff"},{"offset":0.441,"color":"#fff"},{"offset":0.441,"color":"#333"},{"offset":0.45,"color":"#333"},{"offset":0.45,"color":"#fff"},{"offset":0.466,"color":"#fff"},{"offset":0.466,"color":"#333"},{"offset":0.475,"color":"#333"},{"offset":0.475,"color":"#fff"},{"offset":0.491,"color":"#fff"},{"offset":0.491,"color":"#333"},{"offset":0.5,"color":"#333"},{"offset":0.5,"color":"#fff"},{"offset":0.516,"color":"#fff"},{"offset":0.516,"color":"#333"},{"offset":0.525,"color":"#333"},{"offset":0.525,"color":"#fff"},{"offset":0.541,"color":"#fff"},{"offset":0.541,"color":"#333"},{"offset":0.55,"color":"#333"},{"offset":0.55,"color":"#fff"},{"offset":0.566,"color":"#fff"},{"offset":0.566,"color":"#333"},{"offset":0.575,"color":"#333"},{"offset":0.575,"color":"#fff"},{"offset":0.591,"color":"#fff"},{"offset":0.591,"color":"#333"},{"offset":0.6,"color":"#333"},{"offset":0.6,"color":"#fff"},{"offset":0.616,"color":"#fff"},{"offset":0.616,"color":"#333"},{"offset":0.625,"color":"#333"},{"offset":0.625,"color":"#fff"},{"offset":0.641,"color":"#fff"},{"offset":0.641,"color":"#333"},{"offset":0.65,"color":"#333"},{"offset":0.65,"color":"#fff"},{"offset":0.666,"color":"#fff"},{"offset":0.666,"color":"#333"},{"offset":0.675,"color":"#333"},{"offset":0.675,"color":"#fff"},{"offset":0.691,"color":"#fff"},{"offset":0.691,"color":"#333"},{"offset":0.7,"color":"#333"},{"offset":0.7,"color":"#fff"},{"offset":0.716,"color":"#fff"},{"offset":0.716,"color":"#333"},{"offset":0.725,"color":"#333"},{"offset":0.725,"color":"#fff"},{"offset":0.741,"color":"#fff"},{"offset":0.741,"color":"#333"},{"offset":0.75,"color":"#333"},{"offset":0.75,"color":"#fff"},{"offset":0.766,"color":"#fff"},{"offset":0.766,"color":"#333"},{"offset":0.775,"color":"#333"},{"offset":0.775,"color":"#fff"},{"offset":0.791,"color":"#fff"},{"offset":0.791,"color":"#333"},{"offset":0.8,"color":"#333"},{"offset":0.8,"color":"#fff"},{"offset":0.816,"color":"#fff"},{"offset":0.816,"color":"#333"},{"offset":0.825,"color":"#333"},{"offset":0.825,"color":"#fff"},{"offset":0.841,"color":"#fff"},{"offset":0.841,"color":"#333"},{"offset":0.85,"color":"#333"},{"offset":0.85,"color":"#fff"},{"offset":0.866,"color":"#fff"},{"offset":0.866,"color":"#333"},{"offset":0.875,"color":"#333"},{"offset":0.875,"color":"#fff"},{"offset":0.891,"color":"#fff"},{"offset":0.891,"color":"#333"},{"offset":0.9,"color":"#333"},{"offset":0.9,"color":"#fff"},{"offset":0.916,"color":"#fff"},{"offset":0.916,"color":"#333"},{"offset":0.925,"color":"#333"},{"offset":0.925,"color":"#fff"},{"offset":0.941,"color":"#fff"},{"offset":0.941,"color":"#333"},{"offset":0.95,"color":"#333"},{"offset":0.95,"color":"#fff"},{"offset":0.966,"color":"#fff"},{"offset":0.966,"color":"#333"},{"offset":0.975,"color":"#333"},{"offset":0.975,"color":"#fff"},{"offset":1,"color":"#fff"}]}},
        {"test": "datum.cat === 'IGF1+LIF'", "value": {"gradient": "linear", "x1": 0, "y1": 0, "x2": 1, "y2": 0, "stops": [{"offset":0,"color":"#fff"},{"offset":0.065,"color":"#fff"},{"offset":0.065,"color":"#333"},{"offset":0.1,"color":"#333"},{"offset":0.1,"color":"#fff"},{"offset":0.165,"color":"#fff"},{"offset":0.165,"color":"#333"},{"offset":0.2,"color":"#333"},{"offset":0.2,"color":"#fff"},{"offset":0.265,"color":"#fff"},{"offset":0.265,"color":"#333"},{"offset":0.3,"color":"#333"},{"offset":0.3,"color":"#fff"},{"offset":0.365,"color":"#fff"},{"offset":0.365,"color":"#333"},{"offset":0.4,"color":"#333"},{"offset":0.4,"color":"#fff"},{"offset":0.465,"color":"#fff"},{"offset":0.465,"color":"#333"},{"offset":0.5,"color":"#333"},{"offset":0.5,"color":"#fff"},{"offset":0.565,"color":"#fff"},{"offset":0.565,"color":"#333"},{"offset":0.6,"color":"#333"},{"offset":0.6,"color":"#fff"},{"offset":0.665,"color":"#fff"},{"offset":0.665,"color":"#333"},{"offset":0.7,"color":"#333"},{"offset":0.7,"color":"#fff"},{"offset":0.765,"color":"#fff"},{"offset":0.765,"color":"#333"},{"offset":0.8,"color":"#333"},{"offset":0.8,"color":"#fff"},{"offset":0.865,"color":"#fff"},{"offset":0.865,"color":"#333"},{"offset":0.9,"color":"#333"},{"offset":0.9,"color":"#fff"},{"offset":1,"color":"#fff"}]}},
        {"test": "datum.cat === 'IGF1 3h-->LIF'", "value": {"gradient": "linear", "x1": 0, "y1": 0, "x2": 0.849, "y2": 1.115, "stops": [{"offset":0,"color":"#fff"},{"offset":0.026,"color":"#fff"},{"offset":0.026,"color":"#333"},{"offset":0.04,"color":"#333"},{"offset":0.04,"color":"#fff"},{"offset":0.066,"color":"#fff"},{"offset":0.066,"color":"#333"},{"offset":0.08,"color":"#333"},{"offset":0.08,"color":"#fff"},{"offset":0.106,"color":"#fff"},{"offset":0.106,"color":"#333"},{"offset":0.12,"color":"#333"},{"offset":0.12,"color":"#fff"},{"offset":0.146,"color":"#fff"},{"offset":0.146,"color":"#333"},{"offset":0.16,"color":"#333"},{"offset":0.16,"color":"#fff"},{"offset":0.186,"color":"#fff"},{"offset":0.186,"color":"#333"},{"offset":0.2,"color":"#333"},{"offset":0.2,"color":"#fff"},{"offset":0.226,"color":"#fff"},{"offset":0.226,"color":"#333"},{"offset":0.24,"color":"#333"},{"offset":0.24,"color":"#fff"},{"offset":0.266,"color":"#fff"},{"offset":0.266,"color":"#333"},{"offset":0.28,"color":"#333"},{"offset":0.28,"color":"#fff"},{"offset":0.306,"color":"#fff"},{"offset":0.306,"color":"#333"},{"offset":0.32,"color":"#333"},{"offset":0.32,"color":"#fff"},{"offset":0.346,"color":"#fff"},{"offset":0.346,"color":"#333"},{"offset":0.36,"color":"#333"},{"offset":0.36,"color":"#fff"},{"offset":0.386,"color":"#fff"},{"offset":0.386,"color":"#333"},{"offset":0.4,"color":"#333"},{"offset":0.4,"color":"#fff"},{"offset":0.426,"color":"#fff"},{"offset":0.426,"color":"#333"},{"offset":0.44,"color":"#333"},{"offset":0.44,"color":"#fff"},{"offset":0.466,"color":"#fff"},{"offset":0.466,"color":"#333"},{"offset":0.48,"color":"#333"},{"offset":0.48,"color":"#fff"},{"offset":0.506,"color":"#fff"},{"offset":0.506,"color":"#333"},{"offset":0.52,"color":"#333"},{"offset":0.52,"color":"#fff"},{"offset":0.546,"color":"#fff"},{"offset":0.546,"color":"#333"},{"offset":0.56,"color":"#333"},{"offset":0.56,"color":"#fff"},{"offset":0.586,"color":"#fff"},{"offset":0.586,"color":"#333"},{"offset":0.6,"color":"#333"},{"offset":0.6,"color":"#fff"},{"offset":0.626,"color":"#fff"},{"offset":0.626,"color":"#333"},{"offset":0.64,"color":"#333"},{"offset":0.64,"color":"#fff"},{"offset":0.666,"color":"#fff"},{"offset":0.666,"color":"#333"},{"offset":0.68,"color":"#333"},{"offset":0.68,"color":"#fff"},{"offset":0.706,"color":"#fff"},{"offset":0.706,"color":"#333"},{"offset":0.72,"color":"#333"},{"offset":0.72,"color":"#fff"},{"offset":0.746,"color":"#fff"},{"offset":0.746,"color":"#333"},{"offset":0.76,"color":"#333"},{"offset":0.76,"color":"#fff"},{"offset":0.786,"color":"#fff"},{"offset":0.786,"color":"#333"},{"offset":0.8,"color":"#333"},{"offset":0.8,"color":"#fff"},{"offset":0.826,"color":"#fff"},{"offset":0.826,"color":"#333"},{"offset":0.84,"color":"#333"},{"offset":0.84,"color":"#fff"},{"offset":0.866,"color":"#fff"},{"offset":0.866,"color":"#333"},{"offset":0.88,"color":"#333"},{"offset":0.88,"color":"#fff"},{"offset":0.906,"color":"#fff"},{"offset":0.906,"color":"#333"},{"offset":0.92,"color":"#333"},{"offset":0.92,"color":"#fff"},{"offset":0.946,"color":"#fff"},{"offset":0.946,"color":"#333"},{"offset":0.96,"color":"#333"},{"offset":0.96,"color":"#fff"},{"offset":1,"color":"#fff"}]}}
       ], "value": "#fff"}
      }},
     {"mark": {"type": "rule", "color": "#222", "strokeWidth": 2},
      "encoding": {"y": {"field": "val", "type": "quantitative", "title": "Relative intensity to control"}, "y2": {"field": "upper"}}},
     {"mark": {"type": "tick", "color": "#222", "thickness": 2, "size": 22},
      "encoding": {"y": {"field": "upper", "type": "quantitative", "title": "Relative intensity to control"}}},
     {"mark": {"type": "text", "color": "#555", "fontSize": 13, "dy": 3, "baseline": "alphabetic", "font": "Liberation Sans"},
      "encoding": {"y": {"field": "upper", "type": "quantitative", "title": "Relative intensity to control"}, "text": {"field": "sig"}}}
    ]
   }
  ]}
 ]}
 ]}
]
}
